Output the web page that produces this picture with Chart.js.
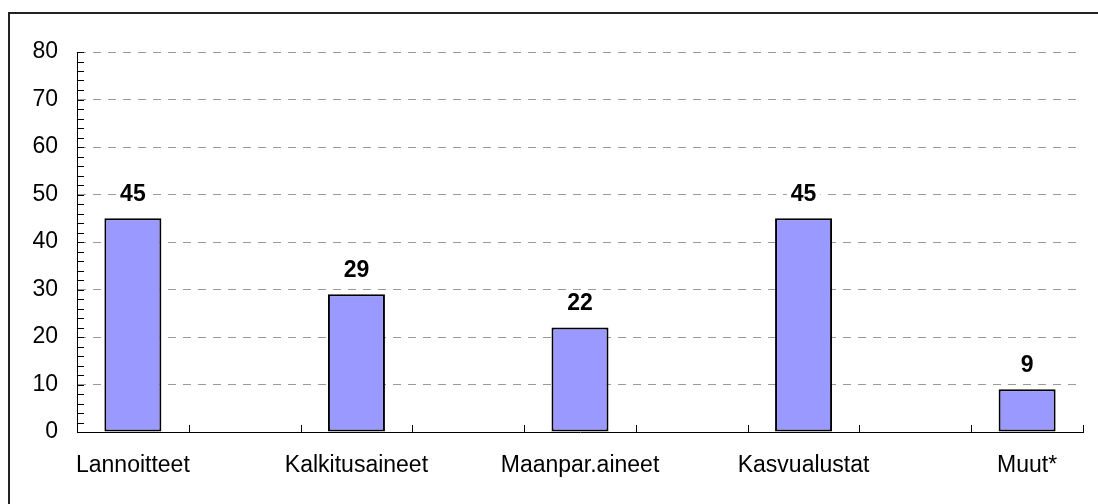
<!DOCTYPE html>
<html lang="fi">
<head>
  <meta charset="utf-8">
  <title>Tuoteryhmät</title>
  <script src="https://cdn.jsdelivr.net/npm/chart.js@4/dist/chart.umd.min.js"></script>
  <style>
    html, body { margin: 0; padding: 0; background: #fff; }
    #wrap { width: 1098px; height: 504px; }
  </style>
</head>
<body>
  <div id="wrap"><canvas id="chart" width="1098" height="504"></canvas></div>
  <script>
    // empty slots between the categories, like in the original sheet
    var categories = ['Lannoitteet', '', 'Kalkitusaineet', '', 'Maanpar.aineet', '', 'Kasvualustat', '', 'Muut*'];
    var values = [45, null, 29, null, 22, null, 45, null, 9];
    var yTicks = [0, 10, 20, 30, 40, 50, 60, 70, 80];
    var yMinorStep = 2;

    var FONT = '"Liberation Sans", Arial, sans-serif';

    // outer frame + inward tick marks
    var framePlugin = {
      id: 'frame',
      afterDraw: function (chart) {
        var c = chart.ctx, x = chart.scales.x, y = chart.scales.y;
        c.save();
        c.strokeStyle = '#000';
        c.lineWidth = 1;
        // y minor/major ticks
        for (var v = yTicks[0]; v <= yTicks[yTicks.length - 1]; v += yMinorStep) {
          var py = Math.round(y.getPixelForValue(v)) + 0.5;
          c.beginPath();
          c.moveTo(x.left, py);
          c.lineTo(x.left + 7, py);
          c.stroke();
        }
        // x category boundaries
        var n = categories.length;
        for (var i = 1; i <= n; i++) {
          var px = Math.round(x.getPixelForValue(i - 0.5)) + 0.5;
          c.beginPath();
          c.moveTo(px, y.bottom);
          c.lineTo(px, y.bottom - 7);
          c.stroke();
        }
        c.strokeStyle = '#222';
        c.lineWidth = 2;
        c.strokeRect(9, 13, 1200, 600);
        c.restore();
      }
    };

    var labelPlugin = {
      id: 'valueLabels',
      afterDatasetsDraw: function (chart) {
        var c = chart.ctx;
        var meta = chart.getDatasetMeta(0);
        c.save();
        c.font = 'bold 23px ' + FONT;
        c.textAlign = 'center';
        c.textBaseline = 'middle';
        meta.data.forEach(function (bar, i) {
          if (values[i] == null) return;
          var ty = bar.y - 25;
          var txt = String(values[i]);
          var w = c.measureText(txt).width + 8;
          c.fillStyle = '#fff';
          c.fillRect(bar.x - w / 2, ty - 12, w, 24);
          c.fillStyle = '#000';
          c.fillText(txt, bar.x, ty + 1);
        });
        c.restore();
      }
    };

    new Chart(document.getElementById('chart'), {
      type: 'bar',
      data: {
        labels: categories,
        datasets: [{
          data: values,
          backgroundColor: '#9999ff',
          borderColor: '#000',
          borderWidth: 2,
          borderSkipped: false,
          categoryPercentage: 1,
          barPercentage: 0.51
        }]
      },
      options: {
        responsive: false,
        animation: false,
        layout: { padding: { left: 0, top: 52, right: 15, bottom: 0 } },
        plugins: { legend: { display: false }, tooltip: { enabled: false } },
        scales: {
          x: {
            offset: true,
            grid: { display: false, drawTicks: false },
            border: { color: '#000', width: 1 },
            ticks: {
              color: '#000',
              font: { size: 23, family: FONT },
              padding: 20,
              maxRotation: 0,
              autoSkip: false
            },
            afterFit: function (s) { s.height = 72; }
          },
          y: {
            min: 0,
            max: 80,
            afterBuildTicks: function (s) {
              s.ticks = yTicks.map(function (v) { return { value: v }; });
            },
            grid: {
              color: function (ctx) { return ctx.tick && ctx.tick.value === 0 ? 'rgba(0,0,0,0)' : '#9a9a9a'; },
              drawTicks: false
            },
            border: { color: '#000', width: 1, dash: [8, 7] },
            ticks: {
              color: '#000',
              font: { size: 23, family: FONT },
              padding: 19
            },
            afterFit: function (s) { s.width = 77; }
          }
        }
      },
      plugins: [framePlugin, labelPlugin]
    });
  </script>
</body>
</html>
